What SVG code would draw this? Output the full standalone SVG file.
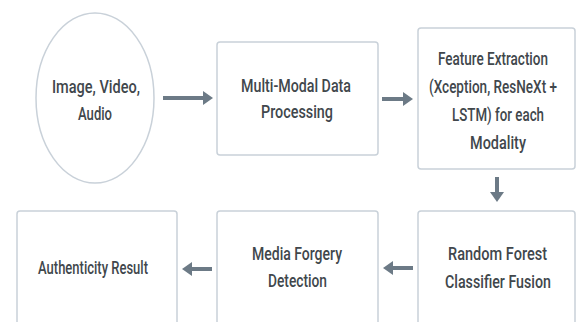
<svg xmlns="http://www.w3.org/2000/svg" width="576" height="322" viewBox="0 0 576 322">
<defs>
<style>
.n{fill:#ffffff;stroke:#c9d1d9;stroke-width:1.5}
.t{font-family:Roboto,"Liberation Sans",sans-serif;font-size:14px;font-weight:500;fill:#41474c;text-anchor:middle}
.c{stroke:#6c7a86;stroke-width:4;fill:none}
.h{fill:#6c7a86}
</style>
</defs>
<rect width="576" height="322" fill="#ffffff"/>
<g id="connectors">
<line class="c" x1="163" y1="98" x2="204" y2="98"/><polygon class="h" points="203,91 213,98 203,105"/>
<line class="c" x1="382" y1="99" x2="404" y2="99"/><polygon class="h" points="403,92 413,99 403,106"/>
<line class="c" x1="497" y1="177" x2="497" y2="193"/><polygon class="h" points="490,192 497,202 504,192"/>
<line class="c" x1="413" y1="268" x2="392" y2="268"/><polygon class="h" points="393,261 383,268 393,275"/>
<line class="c" x1="212" y1="269" x2="191" y2="269"/><polygon class="h" points="192,262 182,269 192,276"/>
</g>
<g id="input">
<ellipse class="n" cx="95" cy="98" rx="59" ry="85"/>
<text class="t" transform="translate(96,93) scale(1,1.35)" textLength="88" lengthAdjust="spacingAndGlyphs">Image, Video,</text>
<text class="t" transform="translate(95,120) scale(1,1.35)" textLength="34" lengthAdjust="spacingAndGlyphs">Audio</text>
</g>
<g id="processing">
<rect class="n" x="217" y="42" width="161" height="113" rx="3"/>
<text class="t" transform="translate(296,92) scale(1,1.35)" textLength="110" lengthAdjust="spacingAndGlyphs">Multi-Modal Data</text>
<text class="t" transform="translate(297,118) scale(1,1.35)" textLength="72" lengthAdjust="spacingAndGlyphs">Processing</text>
</g>
<g id="feature">
<rect class="n" x="418" y="28" width="157" height="141" rx="3"/>
<text class="t" transform="translate(493,65) scale(1,1.35)" textLength="110" lengthAdjust="spacingAndGlyphs">Feature Extraction</text>
<text class="t" transform="translate(493,93) scale(1,1.35)" textLength="128" lengthAdjust="spacingAndGlyphs">(Xception, ResNeXt +</text>
<text class="t" transform="translate(498,121) scale(1,1.35)" textLength="92" lengthAdjust="spacingAndGlyphs">LSTM) for each</text>
<text class="t" transform="translate(498,149) scale(1,1.35)" textLength="56" lengthAdjust="spacingAndGlyphs">Modality</text>
</g>
<g id="fusion">
<rect class="n" x="418" y="211" width="157" height="130" rx="3"/>
<text class="t" transform="translate(497.5,260) scale(1,1.35)" textLength="99" lengthAdjust="spacingAndGlyphs">Random Forest</text>
<text class="t" transform="translate(498,288) scale(1,1.35)" textLength="106" lengthAdjust="spacingAndGlyphs">Classifier Fusion</text>
</g>
<g id="detection">
<rect class="n" x="217" y="211" width="161" height="130" rx="3"/>
<text class="t" transform="translate(297,260) scale(1,1.35)" textLength="90" lengthAdjust="spacingAndGlyphs">Media Forgery</text>
<text class="t" transform="translate(297.5,287) scale(1,1.35)" textLength="59" lengthAdjust="spacingAndGlyphs">Detection</text>
</g>
<g id="result">
<rect class="n" x="17" y="211" width="160" height="130" rx="3"/>
<text class="t" transform="translate(93,274) scale(1,1.35)" textLength="110" lengthAdjust="spacingAndGlyphs">Authenticity Result</text>
</g>
</svg>
